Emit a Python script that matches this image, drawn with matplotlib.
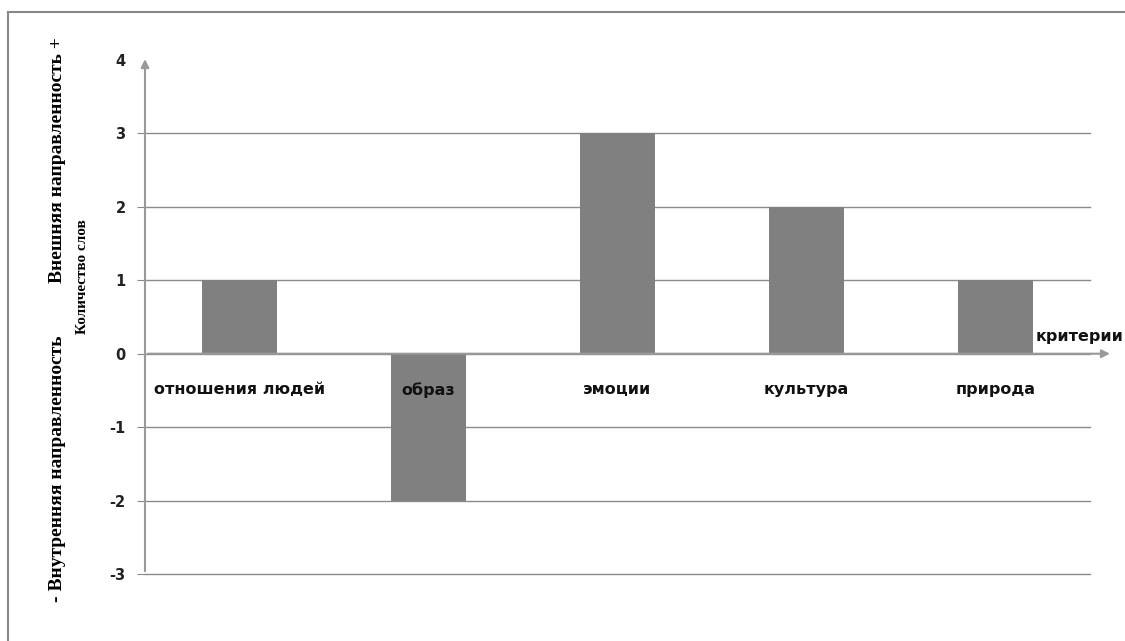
import matplotlib.pyplot as plt
from matplotlib.lines import Line2D

# данные
categories = ['отношения людей', 'образ', 'эмоции', 'культура', 'природа']
values = [1, -2, 3, 2, 1]
y_ticks = [-3, -2, -1, 0, 1, 2, 3, 4]

W, H = 1125, 641
fig = plt.figure(figsize=(W / 100, H / 100), dpi=100)
ax = fig.add_axes([145 / W, 1 - 574 / H, 945 / W, 514 / H])

x = list(range(len(categories)))
ax.bar(x, values, width=0.4, color='#808080', zorder=3)

ax.set_xlim(-0.5, len(categories) - 0.5)
ax.set_ylim(y_ticks[0], y_ticks[-1])
ax.set_yticks(y_ticks)
ax.set_yticklabels([str(t) for t in y_ticks], fontweight='bold', fontsize=10.5, color='#222222')
ax.tick_params(axis='y', length=6, color='#888888', pad=8)
ax.yaxis.get_major_ticks()[-1].tick1line.set_visible(False)  # у 4 нет засечки
ax.set_xticks([])
for s in ax.spines.values():
    s.set_visible(False)

# сетка без линии на 4
for t in y_ticks[:-1]:
    ax.axhline(t, color='#8a8a8a', lw=1, zorder=1, clip_on=False)

# оси со стрелками
ax.annotate('', xy=(-0.5, 4.05), xytext=(-0.5, -3), xycoords='data',
            arrowprops=dict(arrowstyle='-|>', color='#999999', lw=1.5, mutation_scale=12),
            annotation_clip=False, zorder=4)
ax.annotate('', xy=(4.62, 0), xytext=(-0.5, 0), xycoords='data',
            arrowprops=dict(arrowstyle='-|>', color='#999999', lw=1.5, mutation_scale=12),
            annotation_clip=False, zorder=4)

# подписи категорий
for xi, name in zip(x, categories):
    ax.text(xi, -0.49, name, ha='center', va='center', fontsize=11.5,
            fontweight='bold', color='#111111', zorder=5)

ax.text(4.21, 0.23, 'критерии', ha='left', va='center', fontsize=11.5,
        fontweight='bold', color='#111111', clip_on=False)

# подпись оси Y
serif = 'Liberation Serif'
fig.text(58 / W, 1 - 335 / H, '- Внутренняя направленность', rotation=90,
         ha='center', va='top', fontsize=14, fontweight='bold', family=serif)
fig.text(58 / W, 1 - 283 / H, 'Внешняя направленность +', rotation=90,
         ha='center', va='bottom', fontsize=14, fontweight='bold', family=serif)
fig.text(82 / W, 1 - 277 / H, 'Количество слов', rotation=90,
         ha='center', va='center', fontsize=11, fontweight='bold', family=serif)

# рамка
fig.add_artist(Line2D([8 / W, 8 / W], [0, 1 - 12 / H], color='#888888', lw=1.5))
fig.add_artist(Line2D([8 / W, 1], [1 - 12 / H, 1 - 12 / H], color='#888888', lw=1.5))

fig.savefig('out.png', dpi=100)
